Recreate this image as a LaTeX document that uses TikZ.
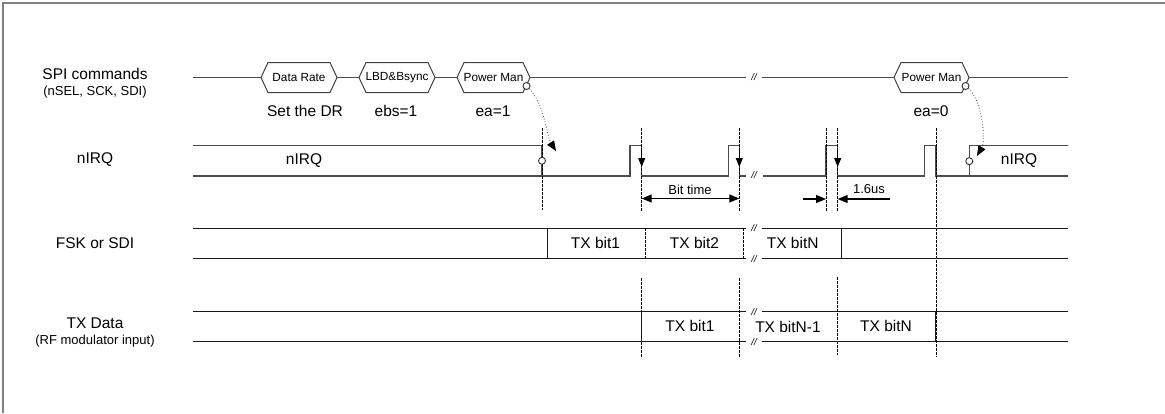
\documentclass[tikz,border=0pt]{standalone}
\usepackage{fontspec}
\setmainfont{Liberation Sans}
\usetikzlibrary{arrows.meta}

% hexagon of one SPI command: left tip, right tip, name, text
\newcommand{\hexsig}[4]{%
  \draw[hexline] (#1,77.5) -- (#1+7,62.5) -- (#2-7,62.5) -- (#2,77.5) -- (#2-7,92.5) -- (#1+7,92.5) -- cycle;
  \coordinate (#3w) at (#1,77.5);
  \coordinate (#3e) at (#2,77.5);
  \node[boxtxt] (#3) at ({(#1+#2)/2},77.5) {#4};}

\begin{document}
\begin{tikzpicture}[x=1pt,y=-1pt,
    bigtxt/.style={font=\fontsize{15.5}{18}\selectfont},
    midtxt/.style={font=\fontsize{13}{15}\selectfont},
    boxtxt/.style={font=\fontsize{11.8}{14}\selectfont, inner sep=0pt},
    brk/.style={font=\fontsize{9.5}{9.5}\selectfont\itshape, inner sep=0pt, fill=white},
    hexline/.style={line width=1pt, black!75},
    sig/.style={line width=1.2pt, black!70},
    row/.style={line width=1.2pt, black!90},
    vcut/.style={line width=0.8pt, black, dash pattern=on 2.5pt off 1.5pt},
    dot/.style={line width=0.8pt, black!70, dotted},
    ring/.style={circle, draw, black!80, fill=white, line width=0.9pt, inner sep=0pt, minimum size=7pt},
    tip/.style={-{Triangle[length=9pt,width=7pt]}, line width=1pt},
    head/.style={-{Triangle[length=10pt,width=8pt,black]}},
    dim/.style={line width=1.1pt}]
    \useasboundingbox (0,0) rectangle (1165,413);
    % frame
    \draw[line width=1.6pt, gray] (3,413) -- (3,3) -- (1165,3);

    % row titles
    \node[bigtxt, anchor=base] (tspi) at (95,79) {SPI commands};
    \node[midtxt, anchor=base] (tspis) at (95,95) {(nSEL, SCK, SDI)};
    \node[bigtxt, anchor=base] (tirq) at (95,163.5) {nIRQ};
    \node[bigtxt, anchor=base] (tfsk) at (95,248.5) {FSK or SDI};
    \node[bigtxt, anchor=base] (ttx) at (95,328.5) {TX Data};
    \node[midtxt, anchor=base] (ttxs) at (95,344.5) {(RF modulator input)};

    % SPI commands
    \hexsig{261}{337}{dr}{Data Rate}
    \hexsig{359}{435}{lbd}{LBD\&Bsync}
    \hexsig{457}{530}{pmA}{Power Man}
    \hexsig{894}{969}{pmB}{Power Man}
    \coordinate (spi0) at (193,77.5);
    \coordinate (spiB1) at (746,77.5);
    \coordinate (spiB2) at (762,77.5);
    \coordinate (spi1) at (1068,77.5);
    \draw[sig] (spi0) -- (drw) (dre) -- (lbdw) (lbde) -- (pmAw) (pmAe) -- (spiB1)
        (spiB2) -- (pmBw) (pmBe) -- (spi1);
    \node[brk] (bspi) at (754,77.5) {//};
    \node[bigtxt] (ldr) at (305,111) {Set the DR};
    \node[bigtxt] (lebs) at (396,111) {ebs=1};
    \node[bigtxt] (leaA) at (493,111) {ea=1};
    \node[bigtxt] (leaB) at (931,111) {ea=0};
    \node[ring] (cA) at (526.5,86) {};
    \node[ring] (cB) at (965.5,86) {};

    % nIRQ
    \draw[sig] (193,145.5) -- (542,145.5) -- (542,176);
    \draw[sig] (193,176) -- (630,176) -- (630,145.5) -- (641.7,145.5) -- (641.7,176)
        -- (728.3,176) -- (728.3,145.5) -- (739.3,145.5) -- (739.3,176) -- (746,176);
    \draw[sig] (763,176) -- (826,176) -- (826,145.5) -- (837.7,145.5) -- (837.7,176)
        -- (924.3,176) -- (924.3,145.5) -- (936,145.5) -- (936,176) -- (1068,176);
    \draw[sig] (969.3,176) -- (969.3,145.5) -- (1068,145.5);
    \node[brk] (birq) at (754,175) {//};
    \node[bigtxt] (lirqA) at (304,160.5) {nIRQ};
    \node[bigtxt] (lirqB) at (1019,160.5) {nIRQ};
    \foreach \x in {641.7,739.3,837.7}
        \draw[tip] (\x,150) -- (\x,167);

    % cut lines
    \draw[vcut] (542,128) -- (542,210);
    \foreach \x in {641.7,739.3,826,837.7}
        \draw[vcut] (\x,128) -- (\x,212);
    \foreach \x in {641.7,739.3}
        \draw[vcut] (\x,278) -- (\x,357);
    \draw[vcut] (837.7,277) -- (837.7,355);
    \draw[vcut] (936,128) -- (936,357);
    \node[ring] (cC) at (542,160.7) {};
    \node[ring] (cD) at (969.3,161.2) {};

    % power management to nIRQ
    \draw[dot, head] (cA) .. controls (545,105) and (547,137) .. (556,151);
    \draw[dot, head] (cB) .. controls (982,100) and (986,140) .. (977,156);

    % timing
    \draw[dim, {Triangle[length=10pt,width=8pt]}-{Triangle[length=10pt,width=8pt]}] (641.7,198.5) -- (739.3,198.5);
    \node[midtxt] (lbit) at (690,189.5) {Bit time};
    \draw[dim, -{Triangle[length=10pt,width=8pt]}] (803,199) -- (826,199);
    \draw[dim, -{Triangle[length=10pt,width=8pt]}] (890,199) -- (837.7,199);
    \node[midtxt] (lgap) at (869,189.5) {1.6us};

    % FSK or SDI
    \draw[row] (193,228.3) -- (746,228.3) (762,228.3) -- (1068,228.3);
    \draw[row] (193,258.3) -- (746,258.3) (762,258.3) -- (1068,258.3);
    \draw[row] (547.3,228.3) -- (547.3,258.3) (841.7,228.3) -- (841.7,258.3);
    \draw[vcut] (645.3,228.3) -- (645.3,258.3) (743.3,228.3) -- (743.3,258.3);
    \node[brk] (bfskA) at (754,228) {//};
    \node[brk] (bfskB) at (754,259) {//};
    \node[bigtxt] (fA) at (595.5,243) {TX bit1};
    \node[bigtxt] (fB) at (694.5,243) {TX bit2};
    \node[bigtxt] (fN) at (792.7,243) {TX bitN};

    % TX Data
    \draw[row] (193,311.7) -- (746,311.7) (762,311.7) -- (1068,311.7);
    \draw[row] (193,341.3) -- (746,341.3) (762,341.3) -- (1068,341.3);
    \draw[row] (641.7,311.7) -- (641.7,341.3) (935.7,311.7) -- (935.7,341.3);
    \node[brk] (btxA) at (754,312) {//};
    \node[brk] (btxB) at (754,342) {//};
    \node[bigtxt] (xA) at (690,325.5) {TX bit1};
    \node[bigtxt] (xM) at (788,326.5) {TX bitN-1};
    \node[bigtxt] (xN) at (886,326) {TX bitN};
\end{tikzpicture}
\end{document}
